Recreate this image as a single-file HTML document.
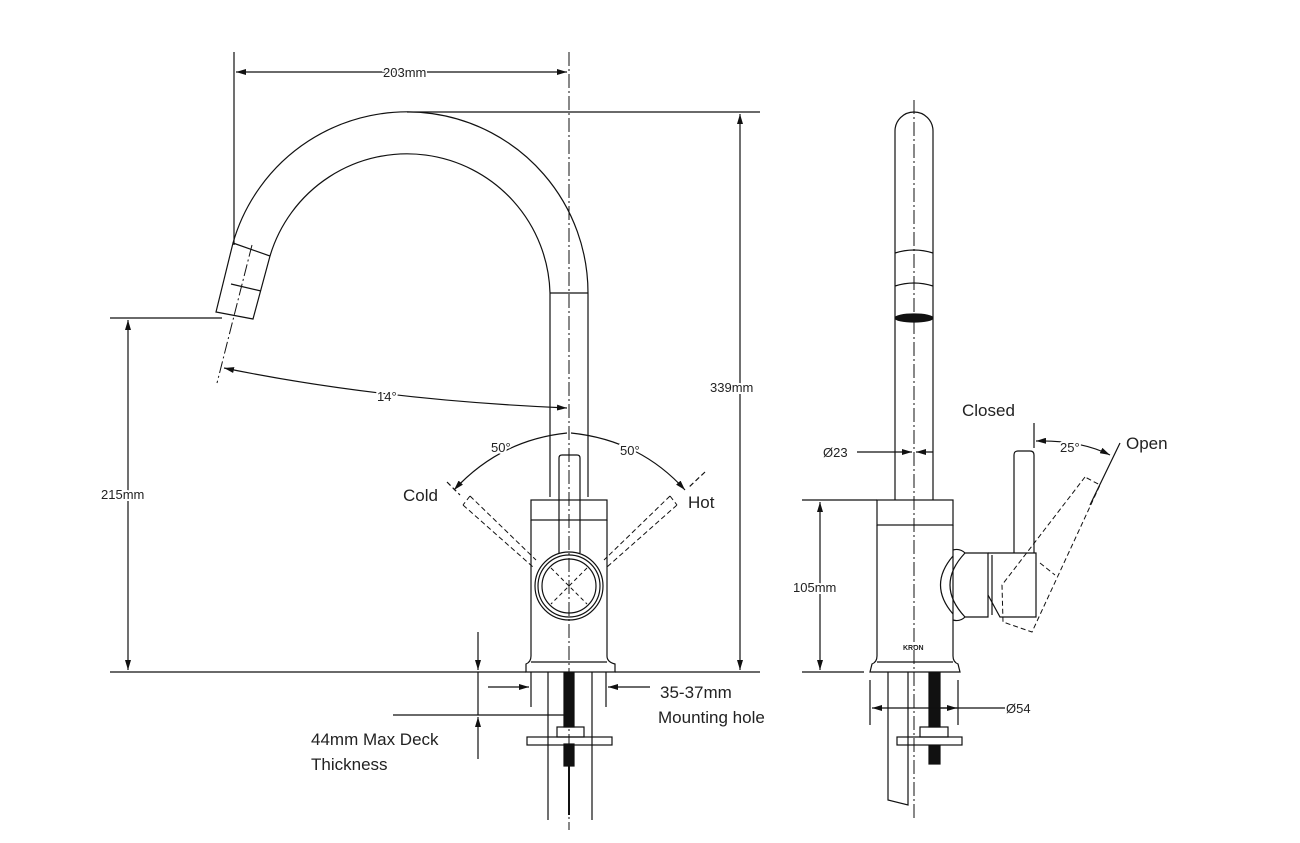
<!DOCTYPE html>
<html><head><meta charset="utf-8"><style>
html,body{margin:0;padding:0;background:#fff;width:1300px;height:843px;overflow:hidden}
svg{display:block}
text{font-family:"Liberation Sans",sans-serif;fill:#222}
</style></head><body>
<svg width="1300" height="843" viewBox="0 0 1300 843" xmlns="http://www.w3.org/2000/svg">
<defs>
<marker id="a" viewBox="0 0 10 6" refX="10" refY="3" markerWidth="10" markerHeight="6" orient="auto-start-reverse" markerUnits="userSpaceOnUse"><path d="M0,0 L10,3 L0,6 Z" fill="#111"/></marker>
</defs>
<g fill="none" stroke="#111" stroke-width="1.2">
<line x1="569" y1="52" x2="569" y2="830" stroke-dasharray="14,3,2,3" stroke-width="1"/>
<line x1="234" y1="52" x2="234" y2="245"/>
<line x1="236" y1="72" x2="567" y2="72" marker-start="url(#a)" marker-end="url(#a)"/>
<line x1="407" y1="112" x2="760" y2="112"/>
<line x1="740" y1="114" x2="740" y2="670" marker-start="url(#a)" marker-end="url(#a)"/>
<line x1="110" y1="672" x2="526" y2="672"/>
<line x1="615" y1="672" x2="760" y2="672"/>
<line x1="110" y1="318" x2="222" y2="318"/>
<line x1="128" y1="320" x2="128" y2="670" marker-start="url(#a)" marker-end="url(#a)"/>
<path d="M588,497 L588,293 A181,181 0 0 0 233,243"/>
<path d="M550,497 L550,293 A143,143 0 0 0 270,256"/>
<line x1="550" y1="293" x2="588" y2="293"/>
<path d="M233,243 L270,256 L253,319 L216,312 Z"/>
<line x1="231" y1="284" x2="261" y2="291"/>
<line x1="252" y1="245" x2="217" y2="383" stroke-dasharray="12,3,2,3" stroke-width="1"/>
<path d="M224,368 Q380,400 567,408" marker-start="url(#a)" marker-end="url(#a)"/>
<path d="M454,490 Q500,440 567,433" marker-start="url(#a)"/>
<path d="M571,433 Q640,440 685,490" marker-end="url(#a)"/>
<line x1="447" y1="482" x2="460" y2="495" stroke-dasharray="5,3"/>
<line x1="705" y1="472" x2="688" y2="488" stroke-dasharray="5,3"/>
<g stroke-dasharray="5,3" stroke-width="1">
<path d="M470,496 L536,560 M463,505 L533,567 M470,496 L463,505"/>
<path d="M670,496 L604,560 M677,505 L607,567 M670,496 L677,505"/>
</g>
<rect x="531" y="500" width="76" height="20"/>
<path d="M531,520 L531,656 Q531,662 526,664 L526,672 L615,672 L615,664 Q607,662 607,656 L607,520"/>
<line x1="531" y1="662" x2="607" y2="662"/>
<path d="M559,553 L559,458 Q559,455 562,455 L577,455 Q580,455 580,458 L580,553"/>
<circle cx="569" cy="586" r="34"/>
<circle cx="569" cy="586" r="31"/>
<circle cx="569" cy="586" r="27"/>
<line x1="551" y1="568" x2="587" y2="604" stroke-dasharray="4,3" stroke-width="1"/>
<line x1="587" y1="568" x2="551" y2="604" stroke-dasharray="4,3" stroke-width="1"/>
<line x1="548" y1="672" x2="548" y2="820"/>
<line x1="592" y1="672" x2="592" y2="820"/>
<line x1="531" y1="672" x2="531" y2="707"/>
<line x1="606" y1="672" x2="606" y2="707"/>
<line x1="488" y1="687" x2="529" y2="687" marker-end="url(#a)"/>
<line x1="650" y1="687" x2="608" y2="687" marker-end="url(#a)"/>
<rect x="564" y="673" width="10" height="54" fill="#111"/>
<rect x="564" y="744" width="10" height="22" fill="#111"/>
<line x1="569" y1="766" x2="569" y2="815" stroke-width="2"/>
<rect x="557" y="727" width="27" height="10"/>
<rect x="527" y="737" width="85" height="8"/>
<line x1="393" y1="715" x2="565" y2="715"/>
<line x1="478" y1="632" x2="478" y2="670" marker-end="url(#a)"/>
<line x1="478" y1="759" x2="478" y2="717" marker-end="url(#a)"/>
<line x1="478" y1="672" x2="478" y2="715"/>

<line x1="914" y1="100" x2="914" y2="820" stroke-dasharray="14,3,2,3" stroke-width="1"/>
<path d="M895,500 L895,131 A19,19 0 0 1 933,131 L933,500"/>
<path d="M895,253 Q914,247 933,253"/>
<path d="M895,286 Q914,280 933,286"/>
<ellipse cx="914" cy="318" rx="19" ry="4" fill="#111"/>
<rect x="877" y="500" width="76" height="25"/>
<path d="M877,525 L877,656 Q877,662 872,664 L870,672 L960,672 L958,664 Q953,662 953,656 L953,525"/>
<line x1="877" y1="662" x2="953" y2="662"/>
<path d="M953,550 Q960,548 965,553 L988,553 L988,617 L965,617 Q960,622 953,620"/>
<path d="M965,553 Q935,585 965,617"/>
<path d="M953,556 Q928,585 953,614"/>
<path d="M988,553 L1036,553 L1036,617 L1000,617 L988,595"/>
<line x1="992" y1="555" x2="992" y2="615"/>
<path d="M1014,553 L1014,455 Q1014,451 1018,451 L1030,451 Q1034,451 1034,455 L1034,553"/>
<g stroke-dasharray="5,3" stroke-width="1">
<path d="M1085,477 L1002,585 L1003,622 L1032,632 L1100,485 L1085,477"/>
<path d="M1040,563 L1055,575"/>
</g>
<line x1="1034" y1="423" x2="1034" y2="448"/>
<path d="M1036,441 Q1080,440 1110,455" marker-start="url(#a)" marker-end="url(#a)"/>
<line x1="1120" y1="443" x2="1090" y2="505"/>
<path d="M888,672 L888,800 L908,805 L908,672"/>
<rect x="929" y="673" width="11" height="54" fill="#111"/>
<rect x="929" y="746" width="11" height="18" fill="#111"/>
<rect x="920" y="727" width="28" height="10"/>
<rect x="897" y="737" width="65" height="8"/>
<line x1="870" y1="680" x2="870" y2="725"/>
<line x1="958" y1="680" x2="958" y2="725"/>
<line x1="872" y1="708" x2="1005" y2="708" marker-start="url(#a)"/>
<line x1="940" y1="708" x2="957" y2="708" marker-end="url(#a)"/>
<line x1="802" y1="500" x2="877" y2="500"/>
<line x1="802" y1="672" x2="864" y2="672"/>
<line x1="820" y1="502" x2="820" y2="670" marker-start="url(#a)" marker-end="url(#a)"/>
<line x1="857" y1="452" x2="912" y2="452" marker-end="url(#a)"/>
<line x1="933" y1="452" x2="916" y2="452" marker-end="url(#a)"/>
</g>
<text x="383" y="77" font-size="13" stroke="#fff" stroke-width="3" paint-order="stroke">203mm</text>
<text x="377" y="401" font-size="13" stroke="#fff" stroke-width="4" paint-order="stroke">14°</text>
<text x="710" y="392" font-size="13" stroke="#fff" stroke-width="4" paint-order="stroke">339mm</text>
<text x="101" y="499" font-size="13" stroke="#fff" stroke-width="4" paint-order="stroke">215mm</text>
<text x="491" y="452" font-size="13" stroke="#fff" stroke-width="4" paint-order="stroke">50°</text>
<text x="620" y="455" font-size="13" stroke="#fff" stroke-width="4" paint-order="stroke">50°</text>
<text x="403" y="501" font-size="17">Cold</text>
<text x="688" y="508" font-size="17">Hot</text>
<text x="660" y="698" font-size="17">35-37mm</text>
<text x="658" y="723" font-size="17">Mounting hole</text>
<text x="311" y="745" font-size="17">44mm Max Deck</text>
<text x="311" y="770" font-size="17">Thickness</text>
<text x="962" y="416" font-size="17">Closed</text>
<text x="1126" y="449" font-size="17">Open</text>
<text x="1060" y="452" font-size="13" stroke="#fff" stroke-width="4" paint-order="stroke">25°</text>
<text x="823" y="457" font-size="13" stroke="#fff" stroke-width="4" paint-order="stroke">Ø23</text>
<text x="793" y="592" font-size="13" stroke="#fff" stroke-width="4" paint-order="stroke">105mm</text>
<text x="1006" y="713" font-size="13">Ø54</text>
<text x="903" y="650" font-size="7" font-weight="bold">KRON</text>
</svg>
</body></html>
